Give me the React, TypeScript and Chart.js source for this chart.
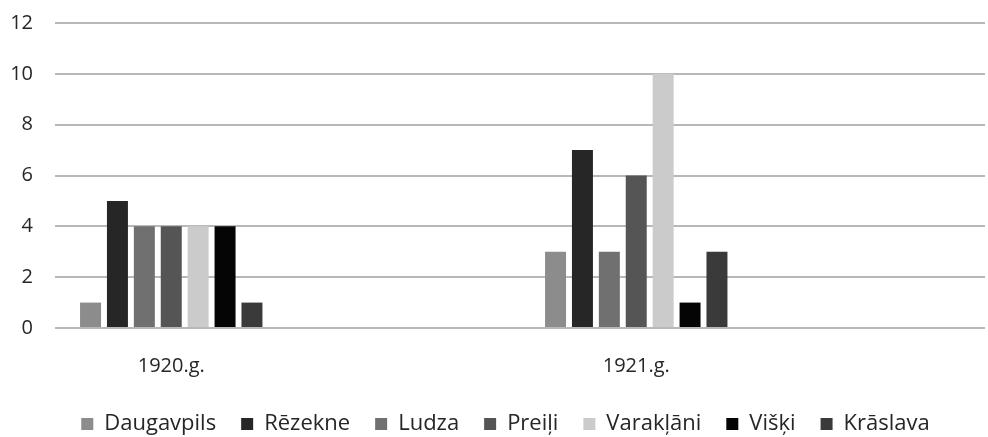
import React, { useEffect, useRef } from "react";
import { Chart, registerables } from "chart.js";

Chart.register(...registerables);

const categories = ["1920.g.", "1921.g."];
const seriesNames = ["Daugavpils", "Rēzekne", "Ludza", "Preiļi", "Varakļāni", "Višķi", "Krāslava"];
const daugavpils = [1, 3];
const rezekne = [5, 7];
const ludza = [4, 3];
const preili = [4, 6];
const varaklani = [4, 10];
const visksi = [4, 1];
const kraslava = [1, 3];
const seriesColors = ["#8c8c8c", "#262626", "#707070", "#555555", "#cbcbcb", "#050505", "#3a3a3a"];
const yTicks = [0, 2, 4, 6, 8, 10, 12];

const legendShift = {
  id: "legendShift",
  afterLayout(chart: any) {
    const lg = chart.legend;
    if (lg) { lg.left += 13; lg.right += 13; }
  },
};

export default function App() {
  const ref = useRef<HTMLCanvasElement>(null);
  useEffect(() => {
    document.body.style.margin = "0";
    const values = [daugavpils, rezekne, ludza, preili, varaklani, visksi, kraslava];
    // each category is followed by an empty slot (the reference leaves a gap after each group)
    const labels: string[] = [];
    categories.forEach((c) => { labels.push(c); labels.push(""); });
    const datasets = seriesNames.map((name, i) => {
      const d: (number | null)[] = [];
      values[i].forEach((v) => { d.push(v); d.push(null); });
      return {
        label: name,
        data: d,
        backgroundColor: seriesColors[i],
        categoryPercentage: 0.81,
        barPercentage: 0.78,
      };
    });
    const font = "'Open Sans', Lato, sans-serif";
    const chart = new Chart(ref.current!, {
      type: "bar",
      data: { labels, datasets },
      plugins: [legendShift],
      options: {
        animation: false,
        responsive: false,
        maintainAspectRatio: false,
        layout: { padding: { top: 23, right: 3, left: 0, bottom: -8 } },
        plugins: {
          tooltip: { enabled: false },
          legend: {
            position: "bottom",
            labels: {
              boxWidth: 12,
              boxHeight: 12,
              padding: 25,
              color: "#262626",
              font: { family: font, size: 22 },
            },
          },
        },
        scales: {
          x: {
            afterFit: (axis: any) => { axis.height = axis.height - 8; },
            grid: { display: false },
            border: { display: false },
            ticks: { color: "#262626", font: { family: font, size: 20 }, padding: 18, maxRotation: 0, autoSkip: false },
          },
          y: {
            min: 0,
            max: 12,
            afterBuildTicks: (axis: any) => { axis.ticks = yTicks.map((v) => ({ value: v })); },
            afterFit: (axis: any) => { axis.width = 55; axis.paddingTop = 0; axis.paddingBottom = 0; },
            grid: { color: "#b8b8b8", lineWidth: 2, drawTicks: false },
            border: { display: false },
            ticks: { color: "#262626", font: { family: font, size: 20 }, padding: 22 },
          },
        },
      },
    });
    return () => chart.destroy();
  }, []);
  return <canvas ref={ref} width={988} height={437} style={{ display: "block" }} />;
}
